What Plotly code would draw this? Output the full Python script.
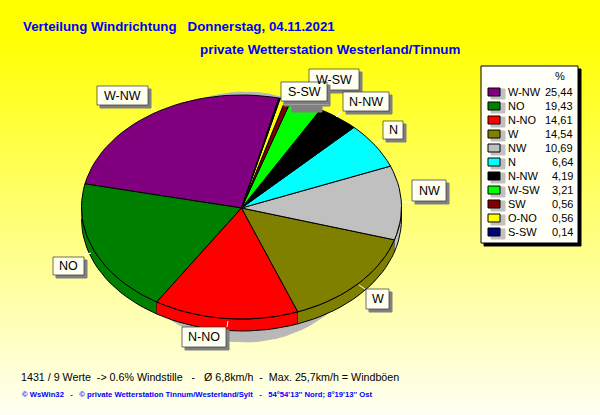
import math
import plotly.graph_objects as go

categories = ["W-NW", "NO", "N-NO", "W", "NW", "N", "N-NW", "W-SW", "SW", "O-NO", "S-SW"]
percent = [25.44, 19.43, 14.61, 14.54, 10.69, 6.64, 4.19, 3.21, 0.56, 0.56, 0.14]
percent_labels = ["25,44", "19,43", "14,61", "14,54", "10,69", "6,64", "4,19", "3,21", "0,56", "0,56", "0,14"]
colors = ["#800080", "#008000", "#FF0000", "#808000", "#C0C0C0", "#00FFFF", "#000000", "#00FF00", "#800000", "#FFFF00", "#000080"]

CX, CY, RX, RY, DEPTH = 241.5, 207, 160, 112, 12
START = 76.5

def pt(t, dy=0, cx=None, rx=None, ry=None, cy=None):
    a = math.radians(t)
    return (cx or CX) + (rx or RX) * math.cos(a), (cy or CY) + dy - (ry or RY) * math.sin(a)

def arc(t0, t1, dy=0):
    n = max(2, int(abs(t1 - t0) / 3) + 2)
    return [pt(t0 + (t1 - t0) * i / (n - 1), dy) for i in range(n)]

fig = go.Figure()
fig.add_trace(go.Heatmap(x=[0, 600], y=[0, 415], z=[[0, 0], [1, 1]], zsmooth="best", showscale=False,
                         colorscale=[[0, "#FFFF00"], [0.08, "#FFFF00"], [1, "#FFFFF4"]], hoverinfo="skip"))

def poly(points, fill, line="#000000", width=1, name=None):
    fig.add_trace(go.Scatter(x=[p[0] for p in points], y=[p[1] for p in points], mode="lines", fill="toself",
                             fillcolor=fill, line=dict(color=line, width=width), name=name or "",
                             hoverinfo="skip" if name is None else "name", showlegend=False))

poly([pt(i * 4, cx=245, rx=130, ry=125, cy=217) for i in range(91)], "#B8B8B8", "#B8B8B8")

total = sum(percent)
angles = []
t = START
for v in percent:
    t1 = t + 360 * v / total
    angles.append((t, t1))
    t = t1

# side wall: only the part of each slice facing the viewer
for (t0, t1), c in zip(angles, colors):
    for k in (-360, 0, 360):
        a, b = max(t0 + k, 180), min(t1 + k, 360)
        if a < b:
            poly(arc(a, b) + arc(b, a, DEPTH), c)

for (t0, t1), c, name in zip(angles, colors, categories):
    poly([(CX, CY + 1)] + arc(t0, t1) + [(CX, CY + 1)], c, name=name)

shapes, annotations = [], []

def text(x, y, s, size=12, color="#000000", bold=False, anchor="left"):
    annotations.append(dict(x=x, y=y, xref="x", yref="y", text=f"<b>{s}</b>" if bold else s, showarrow=False,
                            xanchor=anchor, yanchor="middle", align=anchor,
                            font=dict(family="Liberation Sans", size=size, color=color)))

def rect(x0, y0, x1, y1, fill, line=None, width=1):
    shapes.append(dict(type="rect", xref="x", yref="y", x0=x0, y0=y0, x1=x1, y1=y1, fillcolor=fill,
                       line=dict(color=line or fill, width=width)))

def white_line(x0, y0, x1, y1):
    shapes.append(dict(type="line", xref="x", yref="y", x0=x0, y0=y0, x1=x1, y1=y1,
                       line=dict(color="#FFFFFF", width=1)))

text(21, 26, "Verteilung Windrichtung   Donnerstag, 04.11.2021", 13.3, "#0000FF", True)
text(198, 49, "private Wetterstation Westerland/Tinnum", 13.4, "#0000FF", True)
text(19, 377, "1431 / 9 Werte  -> 0.6% Windstille   -   Ø 6,8km/h  -  Max. 25,7km/h = Windböen", 10.7)
text(20, 394, "© WsWin32   -   © private Wetterstation Tinnum/Westerland/Sylt   -   54°54'13'' Nord; 8°19'13'' Ost", 7.7, "#0000FF", True)

leaders = [(151, 105, 156, 112), (342, 111, 336, 117), (382, 140, 375, 144), (402, 202, 412, 202),
           (365, 289, 359, 285), (227, 327, 228, 321), (84, 255, 91, 253)]
for seg in leaders:
    white_line(*seg)

boxes = [("W-SW", 309, 69, 359, 90), ("W-NW", 97, 86, 148, 105), ("S-SW", 281, 82, 327, 101),
         ("N-NW", 343, 92, 389, 111), ("N", 383, 121, 403, 139), ("NW", 412, 180, 446, 201),
         ("W", 366, 289, 389, 309), ("N-NO", 182, 327, 226, 347), ("NO", 53, 257, 84, 275)]
rect(284, 103, 330, 106, "#808080")
rect(292, 106, 322, 112, "#808080")
white_line(283, 104, 329, 104)
for s, x0, y0, x1, y1 in boxes:
    rect(x0 + 3, y0 + 3, x1 + 3, y1 + 3, "#808080")
    rect(x0, y0, x1, y1, "#FFFFF0", "#303030", 0.7)
    text((x0 + x1) / 2, (y0 + y1) / 2, s, 12.5, anchor="center")

rect(484, 69, 581, 246, "#000000")
rect(481, 66, 578, 243, "#FFFFF8", "#000000")
text(560, 76, "%", 11, anchor="center")
for i, (c, name, lab) in enumerate(zip(colors, categories, percent_labels)):
    y = 92 + i * 14
    rect(491, y - 3, 505, y + 7, "#C0C0C0")
    rect(488, y - 4, 500, y + 4, c, "#000000")
    text(506, y, name, 11)
    text(575, y, lab, 11, anchor="right")

fig.update_layout(width=600, height=415, margin=dict(l=0, r=0, t=0, b=0), autosize=False, showlegend=False,
                  paper_bgcolor="#FFFFFF", plot_bgcolor="#FFFFFF", shapes=shapes, annotations=annotations,
                  xaxis=dict(range=[0, 600], visible=False, fixedrange=True),
                  yaxis=dict(range=[415, 0], visible=False, fixedrange=True))
fig.write_html("out.html", config=dict(displayModeBar=False),
               post_script="document.body.style.margin='0';document.documentElement.style.overflow='hidden';")
